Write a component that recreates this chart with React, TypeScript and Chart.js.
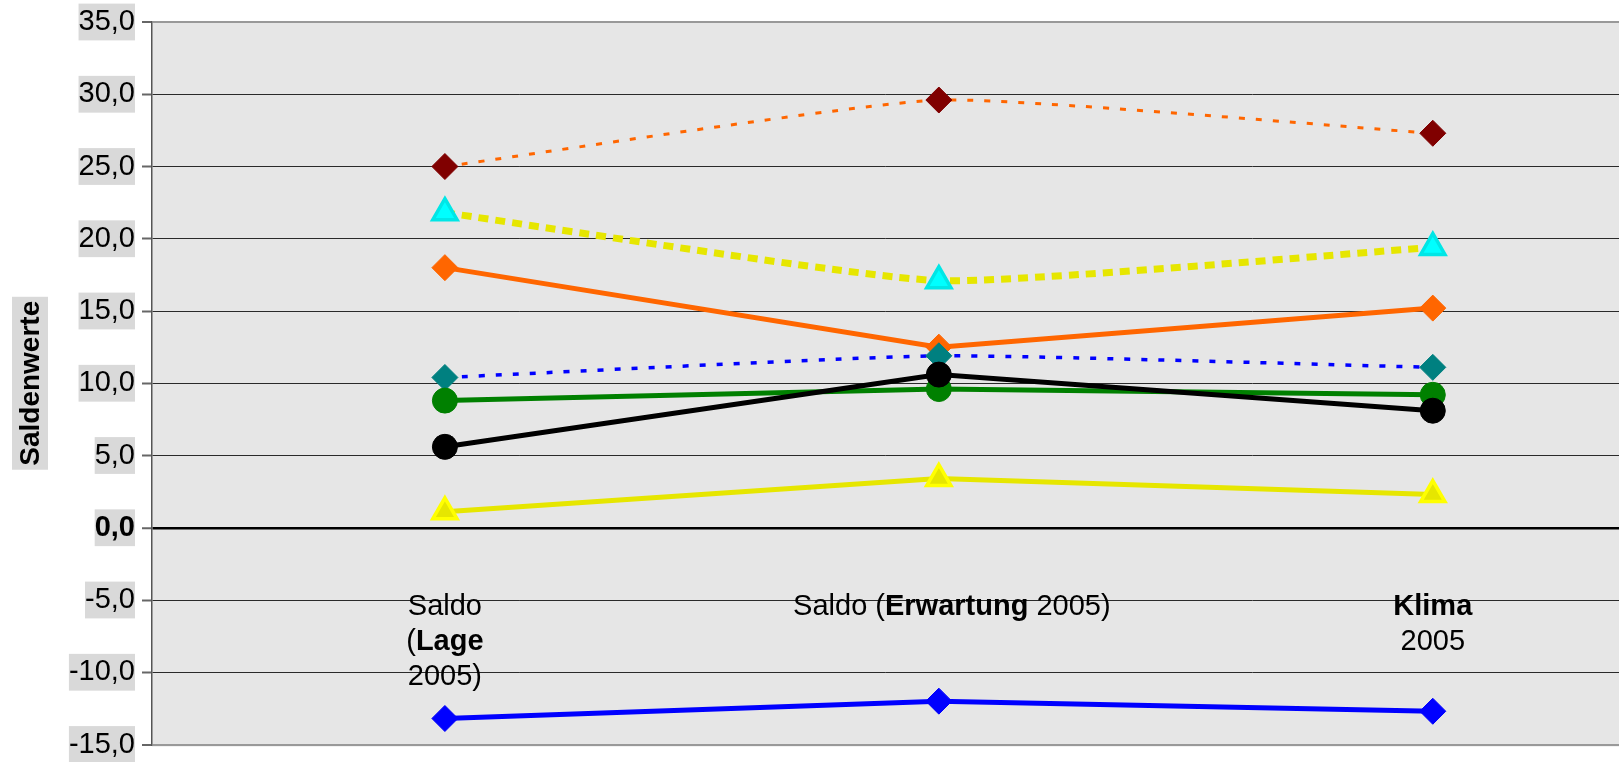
import React, { useEffect, useRef } from "react";
import { Chart, registerables } from "chart.js";

Chart.register(...registerables);

const categoryPositions = [0, 1, 2];
const categoryLabels: { text: string; bold: boolean }[][][] = [
  [
    [{ text: "Saldo", bold: false }],
    [
      { text: "(", bold: false },
      { text: "Lage", bold: true },
    ],
    [{ text: "2005)", bold: false }],
  ],
  [
    [
      { text: "Saldo (", bold: false },
      { text: "Erwartung", bold: true },
      { text: " 2005)", bold: false },
    ],
  ],
  [[{ text: "Klima", bold: true }], [{ text: "2005", bold: false }]],
];

const seriesOrangeDotted = [25.0, 29.6, 27.3];
const seriesYellowDashed = [21.8, 17.1, 19.4];
const seriesOrange = [18.0, 12.5, 15.2];
const seriesBlueDotted = [10.4, 11.9, 11.1];
const seriesGreen = [8.8, 9.6, 9.2];
const seriesBlack = [5.6, 10.6, 8.1];
const seriesYellow = [1.1, 3.4, 2.3];
const seriesBlue = [-13.2, -12.0, -12.7];

const yMin = -15;
const yMax = 35;
const yStep = 5;
const xMin = -0.593;
const xMax = 2.377;
const yTitle = "Saldenwerte";

const FONT = "'Liberation Sans', Arial, sans-serif";

const toPoints = (vals: number[]) =>
  vals.map((v, i) => ({ x: categoryPositions[i], y: v }));

const zeroPad = (scale: any) => {
  scale.paddingTop = 0;
  scale.paddingBottom = 0;
  scale.paddingLeft = 0;
  scale.paddingRight = 0;
};

const bgPlugin = {
  id: "plotBg",
  beforeDraw(chart: any) {
    const { ctx, chartArea } = chart;
    ctx.save();
    ctx.fillStyle = "#e6e6e6";
    ctx.fillRect(
      chartArea.left,
      chartArea.top,
      chartArea.right - chartArea.left,
      chartArea.bottom - chartArea.top + 2
    );
    ctx.restore();
  },
};

const labelsPlugin = {
  id: "catLabels",
  beforeDatasetsDraw(chart: any) {
    const { ctx } = chart;
    const xs = chart.scales.x;
    const ys = chart.scales.y;
    const baseY = ys.getPixelForValue(0) + 87;
    const lineH = 35;
    ctx.save();
    ctx.fillStyle = "#000";
    ctx.textBaseline = "alphabetic";
    ctx.textAlign = "left";
    categoryLabels.forEach((lines, ci) => {
      const cx = xs.getPixelForValue(categoryPositions[ci]) + (ci === 1 ? 13 : 0);
      lines.forEach((segs, li) => {
        let total = 0;
        const widths = segs.map((s) => {
          ctx.font = `${s.bold ? "bold " : ""}29px ${FONT}`;
          const w = ctx.measureText(s.text).width;
          total += w;
          return w;
        });
        let x = cx - total / 2;
        segs.forEach((s, si) => {
          ctx.font = `${s.bold ? "bold " : ""}29px ${FONT}`;
          ctx.fillText(s.text, x, baseY + li * lineH);
          x += widths[si];
        });
      });
    });
    ctx.restore();
  },
};

const titlePlugin = {
  id: "yTitleBox",
  afterDraw(chart: any) {
    const { ctx, chartArea } = chart;
    const cy = (chartArea.top + chartArea.bottom) / 2;
    const cx = 30;
    ctx.save();
    ctx.translate(cx, cy);
    ctx.rotate(-Math.PI / 2);
    ctx.font = `bold 28px ${FONT}`;
    const w = ctx.measureText(yTitle).width;
    ctx.fillStyle = "#d9d9d9";
    ctx.fillRect(-w / 2 - 4, -18, w + 8, 36);
    ctx.fillStyle = "#000";
    ctx.textAlign = "center";
    ctx.textBaseline = "middle";
    ctx.fillText(yTitle, 0, 1);
    ctx.restore();
  },
};

export default function App() {
  const ref = useRef<HTMLCanvasElement | null>(null);

  useEffect(() => {
    if (!ref.current) return;
    const solid = (
      label: string,
      vals: number[],
      color: string,
      pointStyle: string,
      pColor: string,
      pBorder: string,
      radius: number,
      pBorderWidth: number
    ) => ({
      label,
      data: toPoints(vals),
      borderColor: color,
      borderWidth: 5,
      tension: 0,
      pointStyle,
      pointRadius: radius,
      pointBackgroundColor: pColor,
      pointBorderColor: pBorder,
      pointBorderWidth: pBorderWidth,
      fill: false,
    });

    const chart = new Chart(ref.current, {
      type: "line",
      data: {
        datasets: [
          solid("blue", seriesBlue, "#0000ff", "rectRot", "#0000ff", "#0000ff", 13, 1),
          solid("yellow", seriesYellow, "#e6e600", "triangle", "#e6e600", "#ffff00", 14, 3.5),
          solid("black", seriesBlack, "#000000", "circle", "#000000", "#000000", 12.5, 1),
          solid("green", seriesGreen, "#008000", "circle", "#008000", "#008000", 12.5, 1),
          {
            label: "blueDotted",
            data: toPoints(seriesBlueDotted),
            borderColor: "#0000ff",
            borderWidth: 3.5,
            borderDash: [6, 11],
            tension: 0.15,
            pointStyle: "rectRot",
            pointRadius: 13,
            pointBackgroundColor: "#008080",
            pointBorderColor: "#008080",
            pointBorderWidth: 1,
            fill: false,
          },
          solid("orange", seriesOrange, "#ff6600", "rectRot", "#ff6600", "#ff6600", 13, 1),
          {
            label: "yellowDashed",
            data: toPoints(seriesYellowDashed),
            borderColor: "#e6e600",
            borderWidth: 7,
            borderDash: [10, 7],
            tension: 0.15,
            pointStyle: "triangle",
            pointRadius: 14,
            pointBackgroundColor: "#00ffff",
            pointBorderColor: "#00e6e6",
            pointBorderWidth: 3.5,
            fill: false,
          },
          {
            label: "orangeDotted",
            data: toPoints(seriesOrangeDotted),
            borderColor: "#ff6600",
            borderWidth: 3,
            borderDash: [6, 11],
            tension: 0.15,
            pointStyle: "rectRot",
            pointRadius: 13,
            pointBackgroundColor: "#800000",
            pointBorderColor: "#800000",
            pointBorderWidth: 1,
            fill: false,
          },
        ] as any,
      },
      options: {
        responsive: false,
        animation: false,
        devicePixelRatio: 1,
        layout: { autoPadding: false, padding: { top: 22, bottom: 17.5, left: 0, right: 0 } },
        plugins: {
          legend: { display: false },
          tooltip: { enabled: false },
          title: { display: false },
        },
        scales: {
          x: {
            type: "linear",
            display: false,
            min: xMin,
            max: xMax,
            afterFit: zeroPad,
          },
          y: {
            type: "linear",
            min: yMin,
            max: yMax,
            afterFit: (scale: any) => {
              scale.width = 152;
              zeroPad(scale);
            },
            border: { display: true, color: "#555555", width: 1.5 },
            grid: {
              drawOnChartArea: true,
              drawTicks: true,
              tickLength: 10,
              color: (c: any) => {
                const v = c.tick?.value;
                if (v === 0) return "#000000";
                if (v === yMax || v === yMin) return "#999999";
                return "#2a2a2a";
              },
              lineWidth: (c: any) => {
                const v = c.tick?.value;
                if (v === 0) return 2.5;
                if (v === yMax || v === yMin) return 2;
                return 1;
              },
              tickColor: "#666666",
              tickWidth: 2,
            },
            ticks: {
              stepSize: yStep,
              padding: 7,
              color: "#000000",
              font: (c: any) => ({
                family: FONT,
                size: 29,
                weight: c.tick && c.tick.value === 0 ? "bold" : "normal",
              }),
              showLabelBackdrop: true,
              backdropColor: "#d9d9d9",
              backdropPadding: { top: 1, bottom: 1, left: 0, right: 0 },
              callback: (v: any) => Number(v).toFixed(1).replace(".", ","),
            },
          },
        },
      } as any,
      plugins: [bgPlugin, labelsPlugin, titlePlugin],
    });
    return () => chart.destroy();
  }, []);

  return (
    <div
      style={{
        position: "fixed",
        left: 0,
        top: 0,
        width: 1619,
        height: 762,
        background: "#ffffff",
      }}
    >
      <canvas ref={ref} width={1619} height={762} style={{ width: 1619, height: 762, display: "block" }} />
    </div>
  );
}
